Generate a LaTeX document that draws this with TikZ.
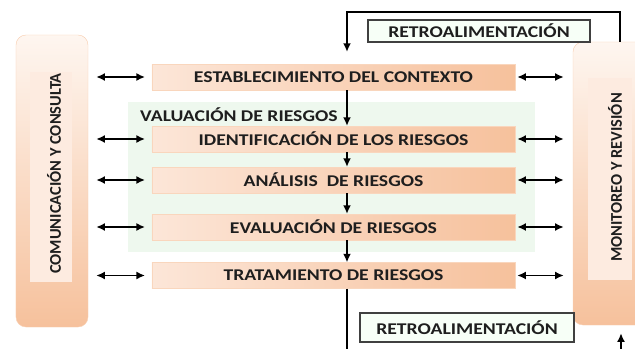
\documentclass[tikz,border=0pt]{standalone}
\usepackage{fontspec}
\setmainfont{Carlito}
\newfontfamily\anchofont{Carlito}[FakeStretch=1.2]
\usetikzlibrary{arrows.meta}
\usetikzlibrary{calc}
\usetikzlibrary{positioning, shadows}

\definecolor{durazno}{HTML}{F5BA91}
\definecolor{duraznoclaro}{HTML}{FCE6D8}
\definecolor{crema}{HTML}{FEF6F0}
\definecolor{verdeclaro}{HTML}{EEF8EE}
\definecolor{texto}{HTML}{1E1E1E}

\tikzset{
  paso/.style={draw=durazno!60, left color=duraznoclaro, right color=durazno!90,
    minimum width=10.89cm, minimum height=0.77cm, inner sep=0pt,
    font=\anchofont\bfseries\fontsize{14}{16}\selectfont, text=texto},
  lado/.style={draw=durazno!70, rounded corners=0.3cm, top color=crema,
    bottom color=durazno!90, minimum width=2.16cm, inner sep=0pt},
  franja/.style={fill=duraznoclaro!80, draw=none, inner sep=0pt},
  retro/.style={draw=black!75, line width=1.1pt, fill=green!3,
    drop shadow={opacity=0.25, shadow xshift=1pt, shadow yshift=-1pt},
    inner sep=0pt, font=\anchofont\bfseries\fontsize{14}{16}\selectfont, text=texto},
  vertical/.style={rotate=90, font=\bfseries\fontsize{14}{16}\selectfont, text=texto},
  flecha/.style={line width=1.5pt, >={Latex[length=2.6mm, width=2.4mm]}},
}

\begin{document}
\begin{tikzpicture}[x=0.03cm, y=-0.03cm]
  \useasboundingbox (0,0) rectangle (635,349);
  \coordinate (eje) at (347,0);
  \coordinate (lazo) at (620,12);
  \coordinate (fondo) at (347,349);
  \coordinate (subida) at (621,349);

  % bloques laterales
  \node[lado, minimum height=8.76cm] (comunicacion) at (52,181) {};
  \node[franja, minimum width=1.26cm, minimum height=6.3cm] (comfranja) at (51,177) {};
  \node[vertical] (comtexto) at (54,173.5) {COMUNICACIÓN Y CONSULTA};

  \node[lado, minimum height=8.49cm] (monitoreo) at (609,183.5) {};
  \node[franja, minimum width=1.32cm, minimum height=6.06cm] (monfranja) at (610,179) {};
  \node[vertical] (montexto) at (615,177.5) {MONITOREO Y REVISIÓN};

  % valuacion
  \node[fill=verdeclaro, minimum width=12.21cm, minimum height=4.5cm, inner sep=0pt]
    (valuacion) at (331.5,177) {};
  \node[anchor=west, inner sep=0pt, text=texto,
    font=\anchofont\bfseries\fontsize{14}{16}\selectfont] (valtexto) at (140,115)
    {VALUACIÓN DE RIESGOS};

  % pasos
  \node[paso] (contexto) at (333.5,77) {ESTABLECIMIENTO DEL CONTEXTO};
  \node[paso] (identificacion) at (333.5,139) {IDENTIFICACIÓN DE LOS RIESGOS};
  \node[paso] (analisis) at (333.5,180) {ANÁLISIS\ \ DE RIESGOS};
  \node[paso] (evaluacion) at (333.5,227) {EVALUACIÓN DE RIESGOS};
  \node[paso] (tratamiento) at (333.5,275.5) {TRATAMIENTO DE RIESGOS};

  \draw[flecha,->] (contexto.south -| eje) -- (identificacion.north -| eje);
  \draw[flecha,->] (identificacion.south -| eje) -- (analisis.north -| eje);
  \draw[flecha,->] (analisis.south -| eje) -- (evaluacion.north -| eje);
  \draw[flecha,->] (evaluacion.south -| eje) -- (tratamiento.north -| eje);
  \draw[flecha] (tratamiento.south -| eje) -- (fondo);

  \foreach \p in {contexto, identificacion, analisis, evaluacion, tratamiento}{
    \draw[flecha,<->, shorten <=0.24cm, shorten >=0.2cm]
      (\p.west -| comunicacion.east) -- (\p.west);
    \draw[flecha,<->, shorten <=0.06cm, shorten >=0.27cm]
      (\p.east) -- (\p.east -| monitoreo.west);
  }

  % retroalimentacion
  \draw[flecha,->, shorten >=0.36cm]
    (monitoreo.north -| lazo) -- (lazo) -- (lazo -| eje) -- (contexto.north -| eje);
  \draw[flecha,->, shorten >=0.24cm] (subida) -- (monitoreo.south -| subida);

  \node[retro, minimum width=6.66cm, minimum height=0.66cm] (retroarriba) at (479,31)
    {RETROALIMENTACIÓN};
  \node[retro, minimum width=6.42cm, minimum height=0.87cm] (retroabajo) at (467,327.5)
    {RETROALIMENTACIÓN};
\end{tikzpicture}
\end{document}
